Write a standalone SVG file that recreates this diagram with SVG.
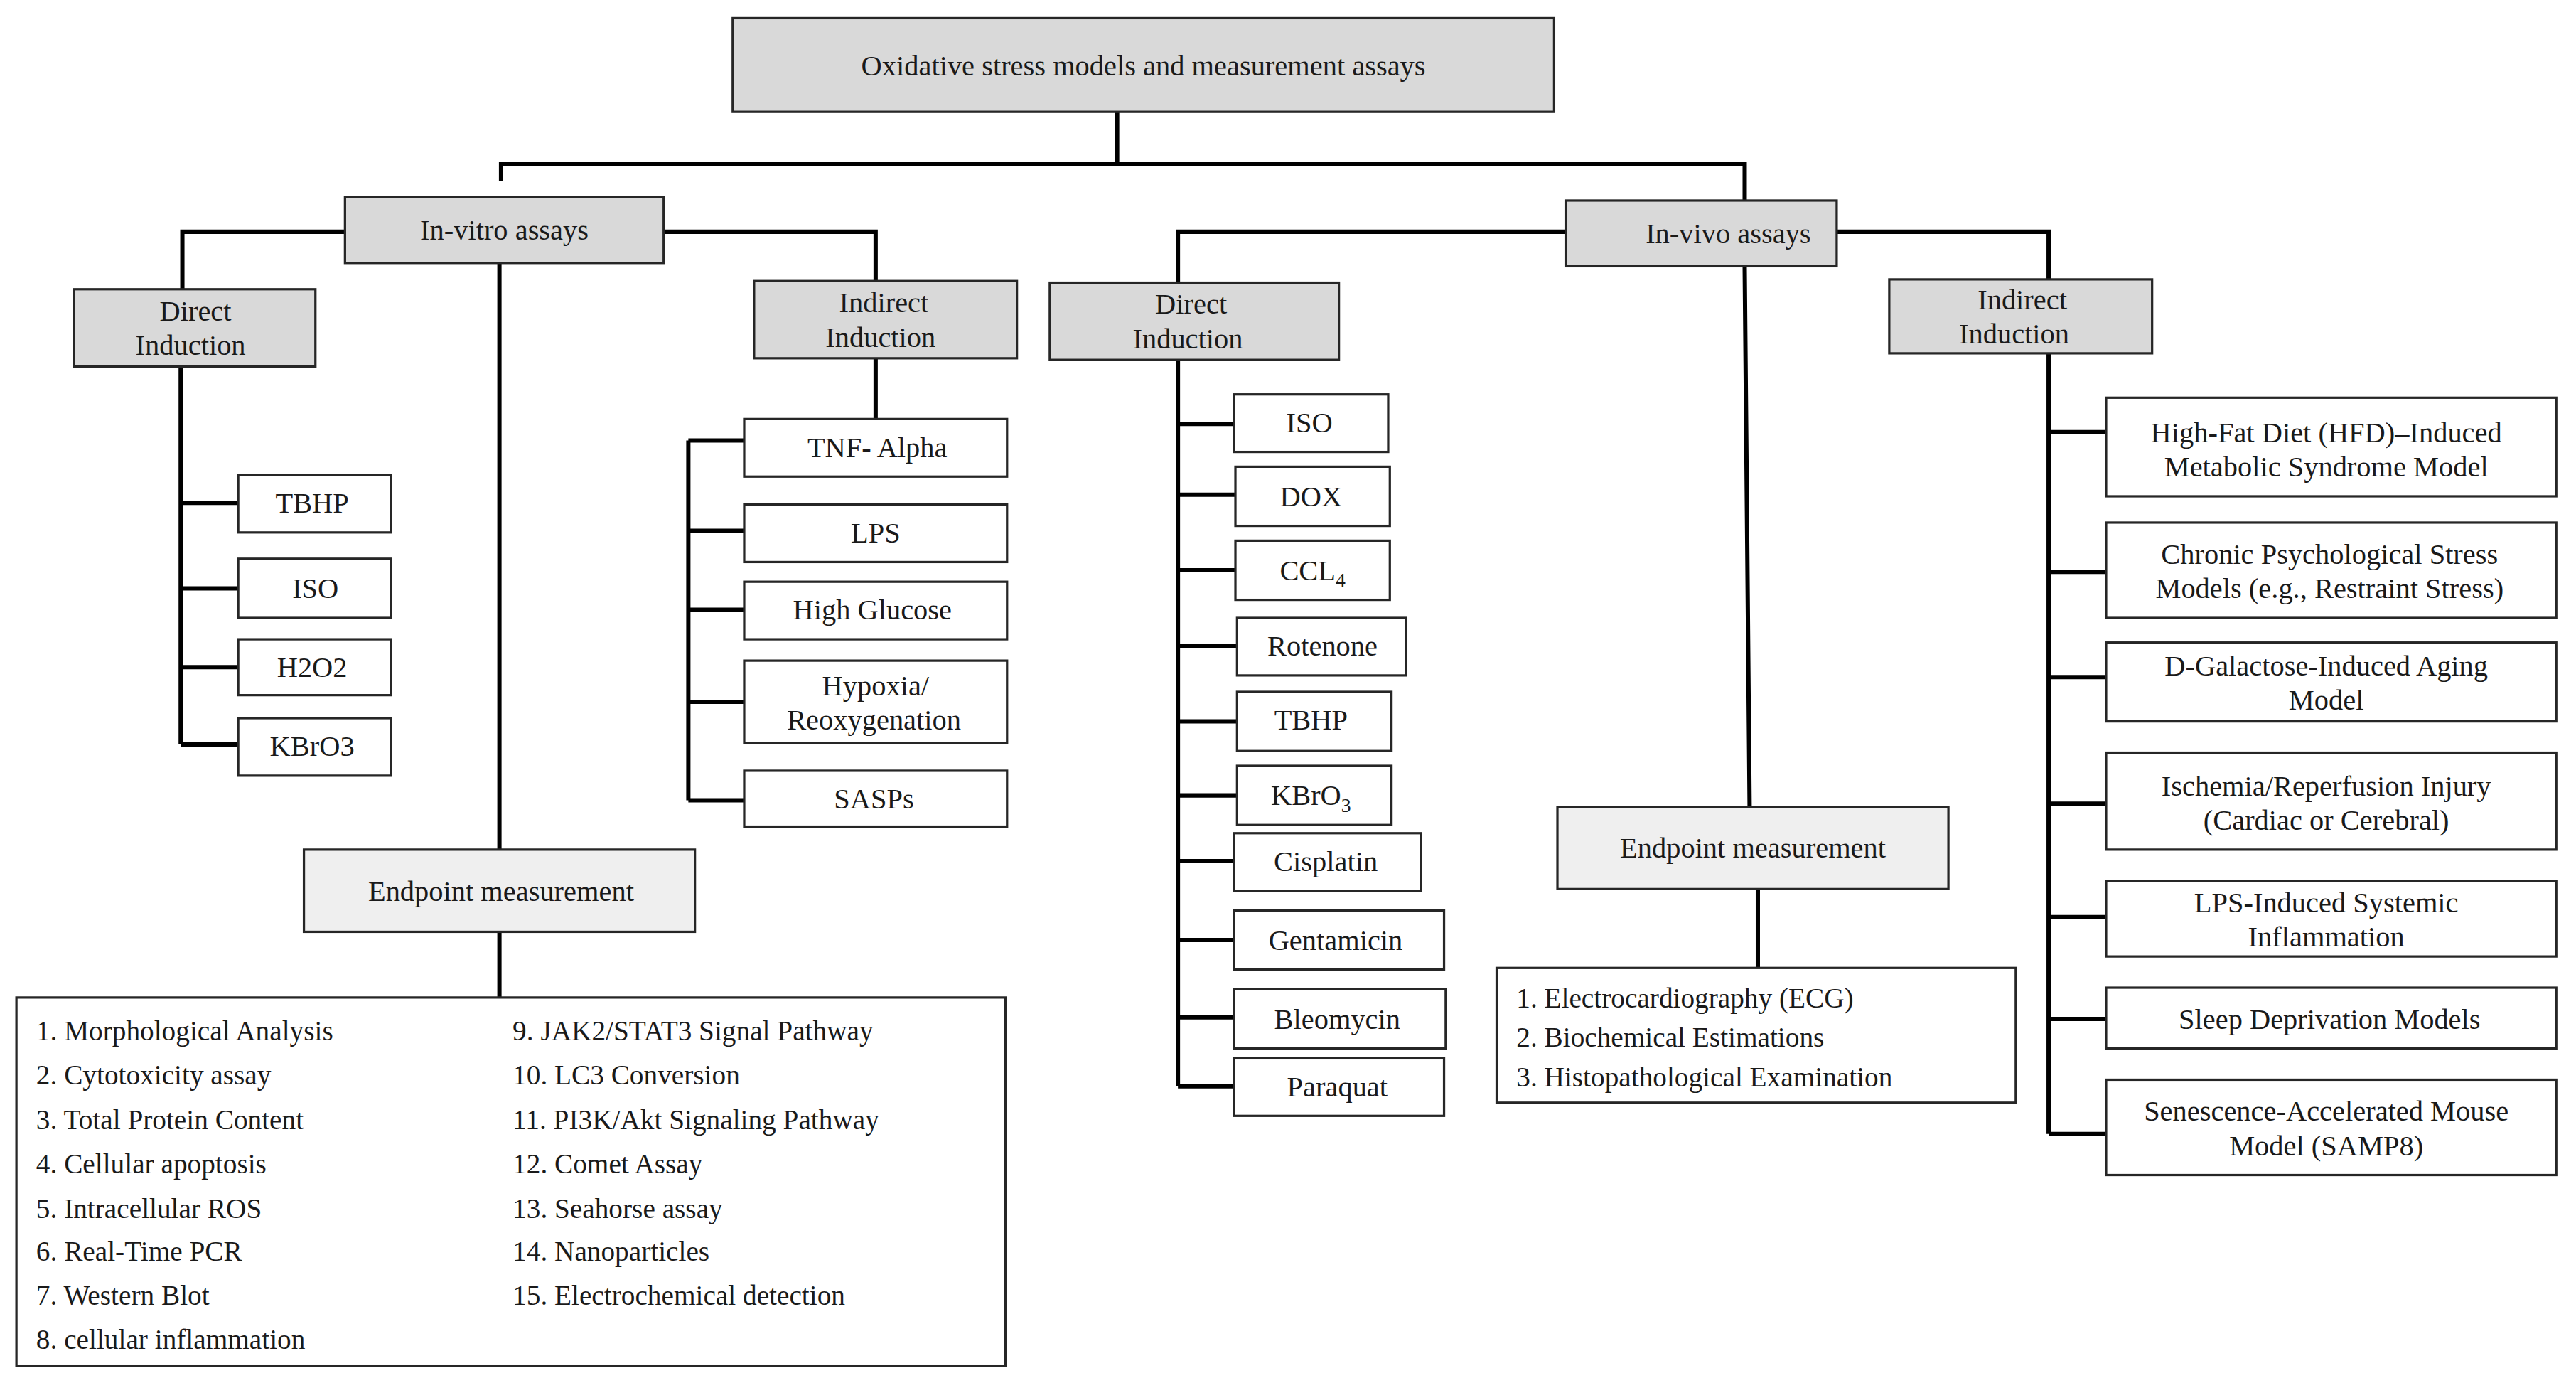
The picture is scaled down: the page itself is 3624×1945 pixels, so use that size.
<svg xmlns="http://www.w3.org/2000/svg" width="3624" height="1945" viewBox="0 0 3624 1945">
<style>
.g{fill:#d9d9d9;stroke:#262626;stroke-width:1.4}
.e{fill:#efefef;stroke:#262626;stroke-width:1.4}
.w{fill:#fff;stroke:#262626;stroke-width:1.4}
.c{fill:none;stroke:#000;stroke-width:2.6}
text{font-family:"Liberation Serif","Times New Roman",serif;font-size:17.5px;fill:#1a1a1a}
.m{text-anchor:middle}
.l{font-size:17px}
</style>
<rect width="3624" height="1945" fill="#fff"/>
<g transform="scale(2.3112)">
<g id="connectors" class="c">
<path d="M680 68V100M305 110V100H1062V122"/>
<path d="M210 141H111V176M404 141H533V171M304 160V517M304 567V607"/>
<path d="M110 223V453M110 306H145M110 358H145M110 406H145M110 453H145"/>
<path d="M533 218V255M419 268V487M419 268H453M419 323H453M419 371H453M419 427H453M419 487H453"/>
<path d="M953 141H717V172M1118 141H1247V170M1062 162L1065 491M1070 541V589"/>
<path d="M717 219V661M717 258H751M717 301H752M717 347H752M717 393H753M717 439H753M717 484H753M717 524H751M717 572H751M717 619H751M717 661H751"/>
<path d="M1247 215V690M1247 263H1282M1247 348H1282M1247 412H1282M1247 489H1282M1247 558H1282M1247 620H1282M1247 690H1282"/>
</g>
<g id="root"><rect class="g" x="446" y="11" width="500" height="57"/><text class="m" x="696" y="46">Oxidative stress models and measurement assays</text></g>
<g id="invitro"><rect class="g" x="210" y="120" width="194" height="40"/><text class="m" x="307" y="146">In-vitro assays</text></g>
<g id="direct1"><rect class="g" x="45" y="176" width="147" height="47"/><text class="m" x="119" y="195">Direct</text><text class="m" x="116" y="216">Induction</text></g>
<g id="v-tbhp"><rect class="w" x="145" y="289" width="93" height="35"/><text class="m" x="190" y="312">TBHP</text></g>
<g id="v-iso"><rect class="w" x="145" y="340" width="93" height="36"/><text class="m" x="192" y="364">ISO</text></g>
<g id="v-h2o2"><rect class="w" x="145" y="389" width="93" height="34"/><text class="m" x="190" y="412">H2O2</text></g>
<g id="v-kbro3"><rect class="w" x="145" y="437" width="93" height="35"/><text class="m" x="190" y="460">KBrO3</text></g>
<g id="indirect1"><rect class="g" x="459" y="171" width="160" height="47"/><text class="m" x="538" y="190">Indirect</text><text class="m" x="536" y="211">Induction</text></g>
<g id="v-tnf"><rect class="w" x="453" y="255" width="160" height="35"/><text class="m" x="534" y="278">TNF- Alpha</text></g>
<g id="v-lps"><rect class="w" x="453" y="307" width="160" height="35"/><text class="m" x="533" y="330">LPS</text></g>
<g id="v-hg"><rect class="w" x="453" y="354" width="160" height="35"/><text class="m" x="531" y="377">High Glucose</text></g>
<g id="v-hyp"><rect class="w" x="453" y="402" width="160" height="50"/><text class="m" x="533" y="423">Hypoxia/</text><text class="m" x="532" y="444">Reoxygenation</text></g>
<g id="v-sasp"><rect class="w" x="453" y="469" width="160" height="34"/><text class="m" x="532" y="492">SASPs</text></g>
<g id="endpoint1"><rect class="e" x="185" y="517" width="238" height="50"/><text class="m" x="305" y="548">Endpoint measurement</text></g>
<g id="list1"><rect class="w" x="10" y="607" width="602" height="224"/>
<text class="l" x="22" y="633">1. Morphological Analysis</text>
<text class="l" x="22" y="660">2. Cytotoxicity assay</text>
<text class="l" x="22" y="687">3. Total Protein Content</text>
<text class="l" x="22" y="714">4. Cellular apoptosis</text>
<text class="l" x="22" y="741">5. Intracellular ROS</text>
<text class="l" x="22" y="767">6. Real-Time PCR</text>
<text class="l" x="22" y="794">7. Western Blot</text>
<text class="l" x="22" y="821">8. cellular inflammation</text>
<text class="l" x="312" y="633">9. JAK2/STAT3 Signal Pathway</text>
<text class="l" x="312" y="660">10. LC3 Conversion</text>
<text class="l" x="312" y="687">11. PI3K/Akt Signaling Pathway</text>
<text class="l" x="312" y="714">12. Comet Assay</text>
<text class="l" x="312" y="741">13. Seahorse assay</text>
<text class="l" x="312" y="767">14. Nanoparticles</text>
<text class="l" x="312" y="794">15. Electrochemical detection</text>
</g>
<g id="invivo"><rect class="g" x="953" y="122" width="165" height="40"/><text class="m" x="1052" y="148">In-vivo assays</text></g>
<g id="direct2"><rect class="g" x="639" y="172" width="176" height="47"/><text class="m" x="725" y="191">Direct</text><text class="m" x="723" y="212">Induction</text></g>
<g id="d-iso"><rect class="w" x="751" y="240" width="94" height="35"/><text class="m" x="797" y="263">ISO</text></g>
<g id="d-dox"><rect class="w" x="752" y="284" width="94" height="36"/><text class="m" x="798" y="308">DOX</text></g>
<g id="d-ccl4"><rect class="w" x="752" y="329" width="94" height="36"/><text class="m" x="799" y="353">CCL<tspan font-size="12" dy="4">4</tspan></text></g>
<g id="d-rot"><rect class="w" x="753" y="376" width="103" height="35"/><text class="m" x="805" y="399">Rotenone</text></g>
<g id="d-tbhp"><rect class="w" x="753" y="421" width="94" height="36"/><text class="m" x="798" y="444">TBHP</text></g>
<g id="d-kbro3"><rect class="w" x="753" y="466" width="94" height="36"/><text class="m" x="798" y="490">KBrO<tspan font-size="12" dy="4">3</tspan></text></g>
<g id="d-cis"><rect class="w" x="751" y="507" width="114" height="35"/><text class="m" x="807" y="530">Cisplatin</text></g>
<g id="d-gen"><rect class="w" x="751" y="554" width="128" height="36"/><text class="m" x="813" y="578">Gentamicin</text></g>
<g id="d-bleo"><rect class="w" x="751" y="602" width="129" height="36"/><text class="m" x="814" y="626">Bleomycin</text></g>
<g id="d-para"><rect class="w" x="751" y="644" width="128" height="35"/><text class="m" x="814" y="667">Paraquat</text></g>
<g id="endpoint2"><rect class="e" x="948" y="491" width="238" height="50"/><text class="m" x="1067" y="522">Endpoint measurement</text></g>
<g id="list2"><rect class="w" x="911" y="589" width="316" height="82"/>
<text class="l" x="923" y="613">1. Electrocardiography (ECG)</text>
<text class="l" x="923" y="637">2. Biochemical Estimations</text>
<text class="l" x="923" y="661">3. Histopathological Examination</text>
</g>
<g id="indirect2"><rect class="g" x="1150" y="170" width="160" height="45"/><text class="m" x="1231" y="188">Indirect</text><text class="m" x="1226" y="209">Induction</text></g>
<g id="r-hfd"><rect class="w" x="1282" y="242" width="274" height="60"/><text class="m" x="1416" y="269">High-Fat Diet (HFD)–Induced</text><text class="m" x="1416" y="290">Metabolic Syndrome Model</text></g>
<g id="r-chronic"><rect class="w" x="1282" y="318" width="274" height="58"/><text class="m" x="1418" y="343">Chronic Psychological Stress</text><text class="m" x="1418" y="364">Models (e.g., Restraint Stress)</text></g>
<g id="r-dgal"><rect class="w" x="1282" y="391" width="274" height="48"/><text class="m" x="1416" y="411">D-Galactose-Induced Aging</text><text class="m" x="1416" y="432">Model</text></g>
<g id="r-isch"><rect class="w" x="1282" y="458" width="274" height="59"/><text class="m" x="1416" y="484">Ischemia/Reperfusion Injury</text><text class="m" x="1416" y="505">(Cardiac or Cerebral)</text></g>
<g id="r-lps"><rect class="w" x="1282" y="536" width="274" height="46"/><text class="m" x="1416" y="555">LPS-Induced Systemic</text><text class="m" x="1416" y="576">Inflammation</text></g>
<g id="r-sleep"><rect class="w" x="1282" y="601" width="274" height="37"/><text class="m" x="1418" y="626">Sleep Deprivation Models</text></g>
<g id="r-samp"><rect class="w" x="1282" y="657" width="274" height="58"/><text class="m" x="1416" y="682">Senescence-Accelerated Mouse</text><text class="m" x="1416" y="703">Model (SAMP8)</text></g>
</g>
</svg>
